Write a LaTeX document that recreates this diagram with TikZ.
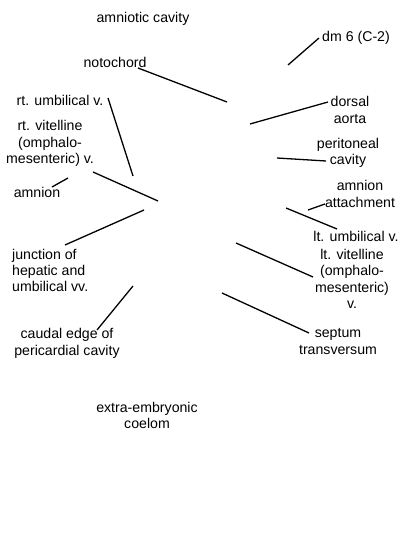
\documentclass[tikz,border=0pt]{standalone}
\usepackage{fontspec}
\setmainfont{Liberation Sans}
\begin{document}
\begin{tikzpicture}[x=1bp,y=-1bp,
  lab/.style={inner sep=0pt,align=center,font=\fontsize{14.2}{16.5}\selectfont},
  labl/.style={lab,align=left,anchor=west},
  lead/.style={line width=1.3pt,black}]
\useasboundingbox[fill=white] (0,0) rectangle (400,550);
% labels
\node[lab] (amcav) at (143,19) {amniotic cavity};
\node[lab] (noto) at (115,62) {notochord};
\node[lab] (rtumb) at (60,100) {rt. umbilical v.};
\node[lab] (rtvit) at (50,143.5) {rt. vitelline\\(omphalo-\\mesenteric) v.};
\node[lab] (amn) at (37,192) {amnion};
\node[labl] (junc) at (12,270.5) {junction of\\hepatic and\\umbilical vv.};
\node[lab] (caud) at (67,343.5) {caudal edge of\\pericardial cavity};
\node[lab] (extra) at (147,415.5) {extra-embryonic\\coelom};
\node[lab] (dm) at (356,38) {dm 6 (C-2)};
\node[lab] (dors) at (350,110) {dorsal\\aorta};
\node[lab] (peri) at (348,153) {peritoneal\\cavity};
\node[lab] (amatt) at (360,194) {amnion\\attachment};
\node[lab] (ltumb) at (356,236) {lt. umbilical v.};
\node[lab] (ltvit) at (352,279) {lt. vitelline\\(omphalo-\\mesenteric)\\v.};
\node[lab] (sept) at (338,341.5) {septum\\transversum};
% leader end points
\coordinate (notoA) at (138,68);   \coordinate (notoB) at (227,102);
\coordinate (rtumbA) at (108,98);  \coordinate (rtumbB) at (133,176);
\coordinate (rtvitA) at (93,172);  \coordinate (rtvitB) at (158,201);
\coordinate (amnA) at (52,187);    \coordinate (amnB) at (68,178);
\coordinate (juncA) at (65,245);   \coordinate (juncB) at (144,210);
\coordinate (caudA) at (97,330);   \coordinate (caudB) at (133,286);
\coordinate (dmA) at (319,38);     \coordinate (dmB) at (288,65);
\coordinate (dorsA) at (328,102);  \coordinate (dorsB) at (250,124);
\coordinate (periA) at (326,161);  \coordinate (periB) at (277,158);
\coordinate (amattA) at (325,204); \coordinate (amattB) at (308,210);
\coordinate (ltumbA) at (337,229); \coordinate (ltumbB) at (286,208);
\coordinate (ltvitA) at (313,277); \coordinate (ltvitB) at (236,243);
\coordinate (septA) at (309,333);  \coordinate (septB) at (222,293);
% leaders
\foreach \n in {noto,rtumb,rtvit,amn,junc,caud,dm,dors,peri,amatt,ltumb,ltvit,sept}
  \draw[lead] (\n A) -- (\n B);
\end{tikzpicture}
\end{document}
